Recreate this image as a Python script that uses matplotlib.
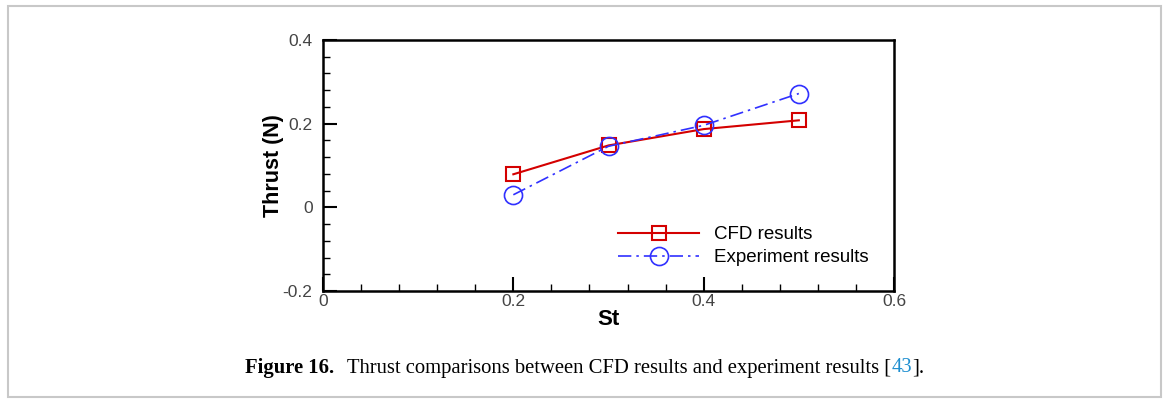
import matplotlib
matplotlib.use("Agg")
from matplotlib import pyplot as plt
from matplotlib.ticker import MultipleLocator
from matplotlib.patches import Rectangle

st = [0.2, 0.3, 0.4, 0.5]
cfd_thrust = [0.079, 0.148, 0.187, 0.208]
exp_thrust = [0.030, 0.146, 0.196, 0.272]

x_ticks = [0, 0.2, 0.4, 0.6]
x_labels = ['0', '0.2', '0.4', '0.6']
y_ticks = [-0.2, 0, 0.2, 0.4]
y_labels = ['-0.2', '0', '0.2', '0.4']

plt.rcParams['font.family'] = ['Liberation Sans', 'DejaVu Sans']

fig = plt.figure(figsize=(11.67, 3.99), dpi=100)
W, H = 1167, 399

# light grey frame round the whole figure
fig.patches.append(Rectangle((8 / W, 2 / H), 1153 / W, 391 / H, transform=fig.transFigure,
                             fill=False, edgecolor='#c8c8c8', linewidth=1.5))

ax = fig.add_axes([323 / W, 1 - 291 / H, 571 / W, 251 / H])

ax.plot(st, cfd_thrust, color='#d40000', lw=1.5, marker='s', ms=10,
        mfc='none', mec='#d40000', mew=1.5, label='CFD results')
ax.plot(st, exp_thrust, color='#3030ff', lw=1.2, ls=(0, (8, 3, 1.5, 3)), marker='o', ms=13,
        mfc='none', mec='#3030ff', mew=1.2, label='Experiment results')

ax.set_xlim(0, 0.6)
ax.set_ylim(-0.2, 0.4)
ax.set_xticks(x_ticks)
ax.set_xticklabels(x_labels)
ax.set_yticks(y_ticks)
ax.set_yticklabels(y_labels)
ax.xaxis.set_minor_locator(MultipleLocator(0.04))
ax.yaxis.set_minor_locator(MultipleLocator(0.04))

ax.tick_params(which='major', direction='in', length=10, width=1.5,
               labelsize=12.5, labelcolor='#444444')
ax.tick_params(axis='x', which='major', pad=2)
ax.tick_params(axis='y', which='major', pad=7.5)
ax.tick_params(which='minor', direction='in', length=5, width=1)
for side in ax.spines.values():
    side.set_linewidth(1.8)

ax.set_xlabel('St', fontsize=16, fontweight='bold', labelpad=0)
ax.set_ylabel('Thrust (N)', fontsize=15.5, fontweight='bold')
ax.yaxis.set_label_coords(-0.068, 0.5)

ax.legend(loc='lower right', bbox_to_anchor=(0.985, 0.032), frameon=False, fontsize=13.5,
          handlelength=4.3, labelspacing=0.3, handletextpad=0.8)

# caption: bold label, plain text, blue citation number
fig.canvas.draw()
renderer = fig.canvas.get_renderer()
parts = [('Figure 16.', 'bold', 'black', 0),
         ('Thrust comparisons between CFD results and experiment results [', 'normal', 'black', 13),
         ('43', 'normal', '#1f8fd0', 0),
         ('].', 'normal', 'black', 0)]
x = 245
for s, weight, color, gap in parts:
    x += gap
    t = fig.text(x / W, 1 - 368 / H, s, fontsize=14.9, fontweight=weight, color=color,
                 family='Liberation Serif', va='center', ha='left')
    x = t.get_window_extent(renderer).x1

fig.savefig('out.png', dpi=100)
